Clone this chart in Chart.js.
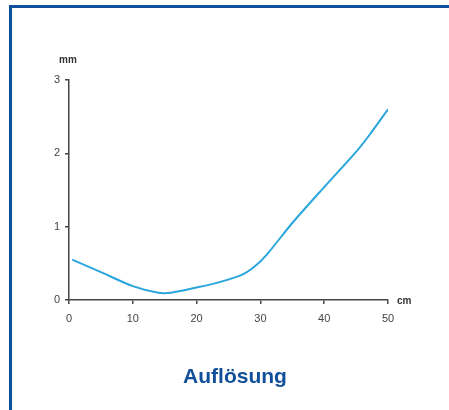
<!DOCTYPE html>
<html>
<head>
<meta charset="utf-8">
<script src="https://cdn.jsdelivr.net/npm/chart.js@4"></script>
<style>
    html, body { margin: 0; padding: 0; background: #fff; overflow: hidden; }
    #wrap { position: relative; width: 449px; height: 410px; }
    #frame {
        position: absolute; left: 9px; top: 5px; width: 460px; height: 420px;
        border-left: 3px solid #0f4f9c; border-top: 3px solid #0f4f9c;
    }
    #chartBox { position: absolute; left: 0; top: 0; width: 449px; height: 410px; }
    #title {
        position: absolute; left: 0; width: 470px; top: 364px; text-align: center;
        font: bold 21px "Liberation Sans", Arial, sans-serif; color: #124f9b;
    }
</style>
</head>
<body>
<div id="wrap">
    <div id="frame"></div>
    <div id="chartBox"><canvas id="resChart" width="449" height="410"></canvas></div>
    <div id="title">Auflösung</div>
</div>
<script>
const distanceCm = [0.5, 5, 10, 14, 16, 20, 23, 27, 29, 31, 35, 40, 45, 47, 50];
const resolutionMm = [0.55, 0.38, 0.19, 0.1, 0.1, 0.17, 0.23, 0.34, 0.45, 0.62, 1.05, 1.54, 2.02, 2.24, 2.6];
const xTicks = [0, 10, 20, 30, 40, 50];
const yTicks = [0, 1, 2, 3];

const axisColor = "#444";
const labelFont = { family: "Liberation Sans, Arial, sans-serif", size: 11 };

// unit labels "mm" above the y axis and "cm" right of the x axis
const unitLabels = {
    id: "unitLabels",
    afterDraw(chart) {
        const { ctx, chartArea } = chart;
        ctx.save();
        ctx.fillStyle = "#333";
        ctx.font = "bold 10px Liberation Sans, Arial, sans-serif";
        ctx.textBaseline = "middle";
        ctx.textAlign = "center";
        ctx.fillText("mm", chartArea.left - 1, chartArea.top - 20);
        ctx.textAlign = "left";
        ctx.fillText("cm", chartArea.right + 9, chartArea.bottom + 1);
        ctx.restore();
    }
};

const points = distanceCm.map((x, i) => ({ x: x, y: resolutionMm[i] }));

new Chart(document.getElementById("resChart").getContext("2d"), {
    type: "line",
    data: {
        datasets: [{
            label: "Auflösung",
            data: points,
            borderColor: "#2aa6dc",
            borderWidth: 2,
            pointRadius: 0,
            tension: 0.3
        }]
    },
    options: {
        responsive: false,
        animation: false,
        layout: { padding: { left: 0, top: 80, right: 61, bottom: 0 } },
        plugins: {
            legend: { display: false },
            tooltip: { enabled: false }
        },
        scales: {
            x: {
                type: "linear",
                min: 0,
                max: 50,
                afterFit(scale) { scale.height = 110; },
                afterBuildTicks(scale) { scale.ticks = xTicks.map(v => ({ value: v })); },
                grid: { drawOnChartArea: false, drawTicks: true, tickLength: 4, color: axisColor, lineWidth: 1.5 },
                border: { display: true, color: axisColor, width: 1.5 },
                ticks: { color: "#444", font: labelFont, padding: 8, maxRotation: 0 }
            },
            y: {
                min: 0,
                max: 3,
                afterFit(scale) { scale.width = 69; },
                afterBuildTicks(scale) { scale.ticks = yTicks.map(v => ({ value: v })); },
                grid: { drawOnChartArea: false, drawTicks: true, tickLength: 4, color: axisColor, lineWidth: 1.5 },
                border: { display: true, color: axisColor, width: 1.5 },
                ticks: { color: "#444", font: labelFont, padding: 5 }
            }
        }
    },
    plugins: [unitLabels]
});
</script>
</body>
</html>
